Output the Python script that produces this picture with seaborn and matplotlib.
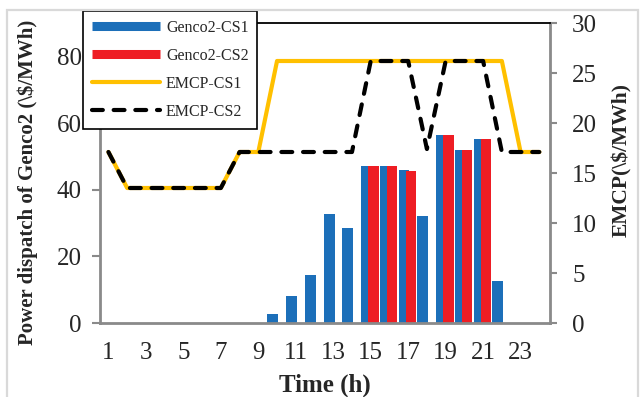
import matplotlib
matplotlib.use("Agg")
import matplotlib.pyplot as plt
import seaborn as sns
import pandas as pd
from matplotlib.lines import Line2D
from matplotlib.patches import Rectangle

# Данные
hours = list(range(1, 25))
genco2_cs1 = [0, 0, 0, 0, 0, 0, 0, 0, 0, 2.7, 8.0, 14.5, 32.7, 28.6, 47.2, 47.2,
              45.8, 32.1, 56.5, 52.0, 55.2, 12.6, 0, 0]
genco2_cs2 = [0, 0, 0, 0, 0, 0, 0, 0, 0, 0, 0, 0, 0, 0, 47.2, 47.2,
              45.7, 0, 56.5, 52.0, 55.2, 0, 0, 0]
emcp_cs1 = [17.1, 13.5, 13.5, 13.5, 13.5, 13.5, 13.5, 17.1, 17.1, 26.2, 26.2, 26.2,
            26.2, 26.2, 26.2, 26.2, 26.2, 26.2, 26.2, 26.2, 26.2, 26.2, 17.1, 17.1]
emcp_cs2 = [17.1, 13.5, 13.5, 13.5, 13.5, 13.5, 13.5, 17.1, 17.1, 17.1, 17.1, 17.1,
            17.1, 17.1, 26.2, 26.2, 26.2, 17.4, 26.2, 26.2, 26.2, 17.1, 17.1, 17.1]
xtick_labels = [1, 3, 5, 7, 9, 11, 13, 15, 17, 19, 21, 23]

df = pd.DataFrame({"hour": hours, "cs1": genco2_cs1, "cs2": genco2_cs2,
                   "p1": emcp_cs1, "p2": emcp_cs2})
df["x_cs1"] = df["hour"] - 0.22
df["x_cs2"] = df["hour"] + 0.15

sns.set_style("white")
plt.rcParams["font.family"] = ["Liberation Serif", "DejaVu Serif"]

BLUE = "#1C6FB9"
RED = "#EE1D24"
GOLD = "#FFC000"
GRAY = "#8a8a8a"

fig = plt.figure(figsize=(6.41, 3.97), dpi=100)
ax1 = fig.add_axes([100 / 641, 74 / 397, 450 / 641, 300 / 397])
ax2 = ax1.twinx()

# Столбцы - выдача мощности
sns.barplot(data=df, x="x_cs1", y="cs1", ax=ax1, native_scale=True, orient="x",
            color=BLUE, saturation=1, width=0.58, errorbar=None, linewidth=0)
sns.barplot(data=df, x="x_cs2", y="cs2", ax=ax1, native_scale=True, orient="x",
            color=RED, saturation=1, width=0.54, errorbar=None, linewidth=0)

# Линии - цена
sns.lineplot(data=df, x="hour", y="p1", ax=ax2, color=GOLD, linewidth=3)
sns.lineplot(data=df, x="hour", y="p2", ax=ax2, color="black", linewidth=3,
             linestyle=(0, (2.6, 2.6)), dash_capstyle="round")

ax1.set_xlim(0.55, 24.57)
ax1.set_ylim(0, 90)
ax2.set_ylim(0, 30)
ax1.set_xticks(xtick_labels)
ax1.set_xticklabels([str(v) for v in xtick_labels])
ax1.set_yticks([0, 20, 40, 60, 80])
ax2.set_yticks([0, 5, 10, 15, 20, 25, 30])
ax1.set_xlabel("")
ax1.set_ylabel("")
ax2.set_ylabel("")

ax1.tick_params(axis="x", length=0, labelsize=18, pad=14)
ax1.tick_params(axis="y", length=6, width=1.5, color=GRAY, labelsize=18, pad=7)
ax2.tick_params(axis="y", length=5, width=1.5, color=GRAY, labelsize=18, pad=11)

for side in ["left", "bottom"]:
    ax1.spines[side].set_color(GRAY)
    ax1.spines[side].set_linewidth(2)
ax1.spines["right"].set_visible(False)
ax1.spines["top"].set_visible(False)
ax2.spines["left"].set_visible(False)
ax2.spines["bottom"].set_visible(False)
ax2.spines["right"].set_color(GRAY)
ax2.spines["right"].set_linewidth(2)
ax2.spines["top"].set_color("black")
ax2.spines["top"].set_linewidth(1.3)

# Подписи осей (обратная косая черта видна, как в оригинале)
fig.text(28 / 641, 1 - 182 / 397, "Power dispatch of Genco2 (\\\\$/MWh)", rotation=90,
         ha="center", va="center", fontsize=15, fontweight="bold")
fig.text(622 / 641, 1 - 160 / 397, "EMCP(\\\\$/MWh)", rotation=90,
         ha="center", va="center", fontsize=15.5, fontweight="bold")
fig.text(325 / 641, 1 - 385 / 397, "Time (h)", ha="center", va="center",
         fontsize=18, fontweight="bold")

# Легенда
handles = [
    Line2D([], [], color=BLUE, linewidth=6.5, solid_capstyle="butt"),
    Line2D([], [], color=RED, linewidth=6.5, solid_capstyle="butt"),
    Line2D([], [], color=GOLD, linewidth=3, solid_capstyle="round"),
    Line2D([], [], color="black", linewidth=3, linestyle=(0, (2.6, 2.6)),
           dash_capstyle="round"),
]
labels = ["Genco2-CS1", "Genco2-CS2", "EMCP-CS1", "EMCP-CS2"]
leg = ax2.legend(handles, labels, loc="upper left", bbox_to_anchor=(83 / 641, 1 - 11 / 397),
                 bbox_transform=fig.transFigure, borderaxespad=0, fontsize=11.5,
                 handlelength=4.3, handletextpad=0.35, borderpad=0.55, labelspacing=0.75,
                 fancybox=False, framealpha=1, edgecolor="black")
leg.get_frame().set_linewidth(1.2)

# Рамка области диаграммы
fig.patches.append(Rectangle((7 / 641, -0.05), 630.5 / 641, 1.05 - 9.5 / 397,
                             transform=fig.transFigure, fill=False,
                             edgecolor="#d9d9d9", linewidth=1.6))

fig.savefig("out.png", dpi=100)
